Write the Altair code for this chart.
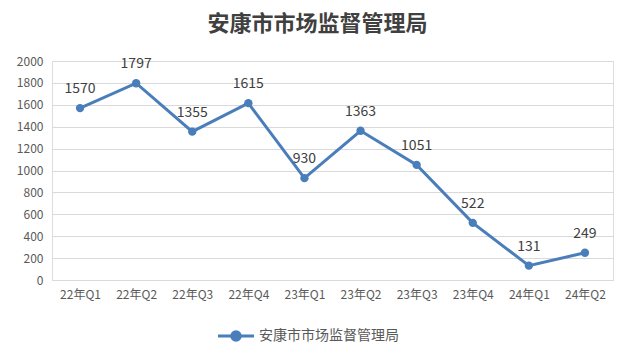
import altair as alt
import pandas as pd

categories = ["22年Q1", "22年Q2", "22年Q3", "22年Q4", "23年Q1", "23年Q2", "23年Q3", "23年Q4", "24年Q1", "24年Q2"]
values = [1570, 1797, 1355, 1615, 930, 1363, 1051, 522, 131, 249]
series_name = "安康市市场监督管理局"
y_ticks = [0, 200, 400, 600, 800, 1000, 1200, 1400, 1600, 1800, 2000]

df = pd.DataFrame({"q": categories, "v": values, "s": [series_name] * len(values)})

FONT = "Noto Sans CJK SC"
BLUE = "#4a7ebb"

x = alt.X("q:N", sort=categories, title=None,
          scale=alt.Scale(paddingInner=0, paddingOuter=0.5),
          axis=alt.Axis(labelAngle=0, ticks=False, domainColor="#d9d9d9", labelColor="#595959",
                        labelFontSize=12, labelPadding=9, labelFont=FONT))
y = alt.Y("v:Q", title=None, scale=alt.Scale(domain=[0, 2000], nice=False),
          axis=alt.Axis(values=y_ticks, format="d", ticks=False, domain=False, gridColor="#d9d9d9",
                        labelColor="#595959", labelFontSize=12, labelPadding=9, labelFont=FONT))

color = alt.Color("s:N", title=None,
                  scale=alt.Scale(domain=[series_name], range=[BLUE]),
                  legend=alt.Legend(orient="none", legendX=164, legendY=255,
                                    symbolType="M-1,0H1M-0.24,0A0.24,0.24 0 1,0 0.24,0A0.24,0.24 0 1,0 -0.24,0",
                                    symbolSize=1300, symbolStrokeWidth=3, symbolFillColor=BLUE,
                                    symbolStrokeColor=BLUE, labelFont=FONT, labelFontSize=14,
                                    labelColor="#595959", labelOffset=3))

base = alt.Chart(df)
line = base.mark_line(strokeWidth=3).encode(x=x, y=y, color=color)
pts = base.mark_point(filled=True, size=70, opacity=1).encode(x=x, y=y, color=alt.Color("s:N", scale=alt.Scale(domain=[series_name], range=[BLUE]), legend=None))
labels = base.mark_text(dy=-19, fontSize=14, color="#404040", font=FONT).encode(x=x, y=y, text="v:Q")

chart = alt.layer(line, pts, labels).properties(
    width=561, height=219,
    autosize=alt.AutoSizeParams(type="none"),
    padding={"left": 44, "top": 53, "right": 9, "bottom": 69},
    title=alt.Title(series_name, font=FONT, fontSize=22, fontWeight="bold", color="#404040",
                    anchor="middle", offset=19, dx=-15),
).configure_view(stroke=None).configure(background="white")

chart.save("out.html", embed_options={"renderer": "svg", "actions": False})
